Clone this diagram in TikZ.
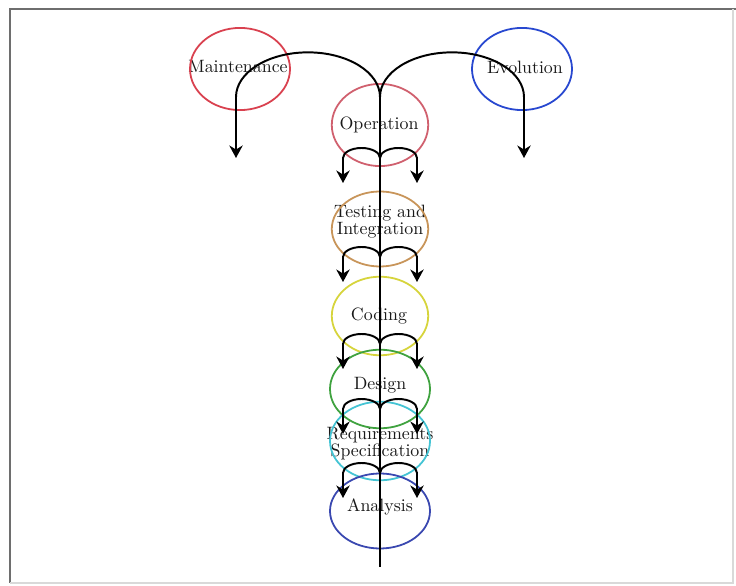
\documentclass[tikz,border=0pt]{standalone}
\usepackage{xcolor}
\usepackage{tikz}
\usetikzlibrary{
  arrows.meta,
  shapes.geometric,
  positioning,
  calc
}
\definecolor{sdMaint}{HTML}{D9414F}
\definecolor{sdOper}{HTML}{D0606E}
\definecolor{sdTest}{HTML}{C8955A}
\definecolor{sdCode}{HTML}{D6D43C}
\definecolor{sdDesign}{HTML}{3FA23F}
\definecolor{sdReq}{HTML}{45C4D4}
\definecolor{sdAnal}{HTML}{3A48B0}
\definecolor{sdEvol}{HTML}{2848D0}
\definecolor{sdFrame}{HTML}{6E6E6E}
\tikzset{
  phasetxt/.style={
    inner sep=0pt, align=center, text=black!90,
    font=\fontsize{10}{9.5}\selectfont
  },
  ring/.style={line width=1pt},
  spine/.style={line width=1.1pt, black},
  spiral/.style={-{Stealth[length=7pt, width=7.5pt]}, line width=1.1pt, black},
  frame/.style={line width=1.6pt, sdFrame},
  faintframe/.style={line width=0.6pt, black!15}
}

\begin{document}
\begin{tikzpicture}[x=0.56pt, y=-0.56pt]
  \useasboundingbox (0,0) rectangle (736,586);
  \draw[frame] (10,583) -- (10,9) -- (736,9);
  \draw[faintframe] (733,9) -- (733,583) -- (10,583);

  \node[phasetxt] (maint) at (238,67) {Maintenance};
  \node[phasetxt] (evol) at (525,67) {Evolution};
  \node[phasetxt] (oper) at (379,125) {Operation};
  \node[phasetxt] (test) at (380,222) {Testing and\\Integration};
  \node[phasetxt] (code) at (379,316) {Coding};
  \node[phasetxt] (design) at (380,385) {Design};
  \node[phasetxt] (req) at (380,444) {Requirements\\Specification};
  \node[phasetxt] (anal) at (380,507) {Analysis};

  \draw[ring, sdMaint] (240,69) ellipse [x radius=28pt, y radius=23pt];
  \draw[ring, sdEvol] (522,69) ellipse [x radius=28pt, y radius=23pt];
  \draw[ring, sdOper] (380,125) ellipse [x radius=27pt, y radius=23pt];
  \draw[ring, sdTest] (380,229) ellipse [x radius=27pt, y radius=21pt];
  \draw[ring, sdCode] (380,316) ellipse [x radius=27pt, y radius=22pt];
  \draw[ring, sdDesign] (380,389) ellipse [x radius=28pt, y radius=22pt];
  \draw[ring, sdReq] (380,441) ellipse [x radius=28pt, y radius=22pt];
  \draw[ring, sdAnal] (380,511) ellipse [x radius=28pt, y radius=21pt];

  \coordinate (top) at (380,97);
  \coordinate (bot) at (380,567);
  \coordinate (mtip) at (236,158);
  \coordinate (etip) at (524,158);
  \draw[spine] (top) -- (bot);
  \draw[spiral] (top) arc[start angle=0, end angle=180, x radius=40.32pt, y radius=25pt] -- (mtip);
  \draw[spiral] (top) arc[start angle=180, end angle=0, x radius=40.32pt, y radius=25pt] -- (etip);

  \foreach \yb/\n in {158/1, 257/2, 344/3, 409/4, 473/5} {
    \coordinate (b\n) at (380,\yb);
    \coordinate (l\n) at (343,\yb+25);
    \coordinate (r\n) at (417,\yb+25);
    \draw[spiral] (b\n) arc[start angle=0, end angle=180, x radius=10.36pt, y radius=5.6pt] -- (l\n);
    \draw[spiral] (b\n) arc[start angle=180, end angle=0, x radius=10.36pt, y radius=5.6pt] -- (r\n);
  }
\end{tikzpicture}
\end{document}
